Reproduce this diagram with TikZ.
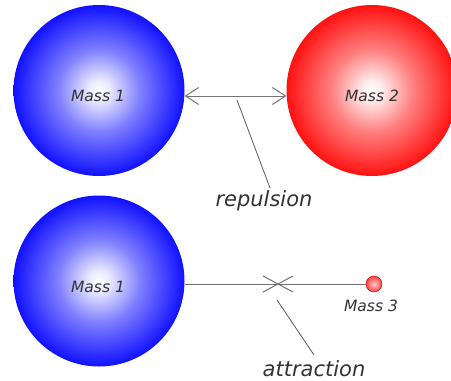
\documentclass[tikz,border=0pt]{standalone}
\usepackage{fontspec}
\setmainfont{DejaVu Sans}
\usetikzlibrary{arrows.meta}

% spherical shadings for the masses
\pgfdeclareradialshading{bluesphere}{\pgfpoint{0bp}{0bp}}{%
  color(0bp)=(white); color(3bp)=(white!92!blue); color(12bp)=(blue!50!white);
  color(27bp)=(blue); color(50bp)=(blue)}
\pgfdeclareradialshading{redsphere}{\pgfpoint{0bp}{0bp}}{%
  color(0bp)=(white); color(3bp)=(white!92!red); color(12bp)=(red!50!white);
  color(27bp)=(red); color(50bp)=(red)}
\pgfdeclareradialshading{smallred}{\pgfpoint{0bp}{0bp}}{%
  color(0bp)=(white!80!red); color(25bp)=(red!75!white); color(50bp)=(red!90!black)}

\begin{document}
\begin{tikzpicture}[x=1pt, y=-1pt,
  sphere/.style={circle, inner sep=0pt, minimum size=171pt},
  masslabel/.style={font=\itshape\fontsize{15.5}{18}\selectfont, text=black!80},
  caption/.style={font=\itshape\fontsize{21}{25}\selectfont, text=black!80},
  link/.style={draw=black!55, line width=1pt},
  pointer/.style={draw=black!65, line width=0.8pt}]
  \useasboundingbox (0,0) rectangle (451,381);

  % repulsion pair
  \node[sphere, shading=bluesphere] (m1a) at (99,90.5) {};
  \node[sphere, shading=redsphere] (m2) at (372,90.5) {};
  \node[masslabel] (l1a) at (98,96) {Mass 1};
  \node[masslabel] (l2) at (372,96) {Mass 2};
  \coordinate (ra) at (m1a.east |- 0,96);
  \coordinate (rb) at (m2.west |- 0,96);
  \draw[link, {Straight Barb[length=13pt, width=17pt]}-{Straight Barb[length=13pt, width=17pt]}] (ra) -- (rb);
  \node[caption] (rep) at (264,201) {repulsion};
  \coordinate (rp) at (237,100);
  \draw[pointer] (rp) -- (270,188);

  % attraction pair
  \node[sphere, shading=bluesphere] (m1b) at (99,281) {};
  \node[masslabel] (l1b) at (98,287) {Mass 1};
  \node[circle, inner sep=0pt, minimum size=16pt, shading=smallred,
        draw=red!70!black, line width=0.4pt] (m3) at (374,284) {};
  \node[masslabel] (l3) at (371,306) {Mass 3};
  \coordinate (aa) at (m1b.east |- 0,284);
  \draw[link] (aa) -- (m3.west);
  \coordinate (x) at (278,284);
  \draw[link] ([shift={(-15,-8)}]x) -- ([shift={(15,8)}]x);
  \draw[link] ([shift={(-15,8)}]x) -- ([shift={(15,-8)}]x);
  \node[caption] (att) at (314,368.5) {attraction};
  \draw[pointer] (277,300) -- (314,355);
\end{tikzpicture}
\end{document}
